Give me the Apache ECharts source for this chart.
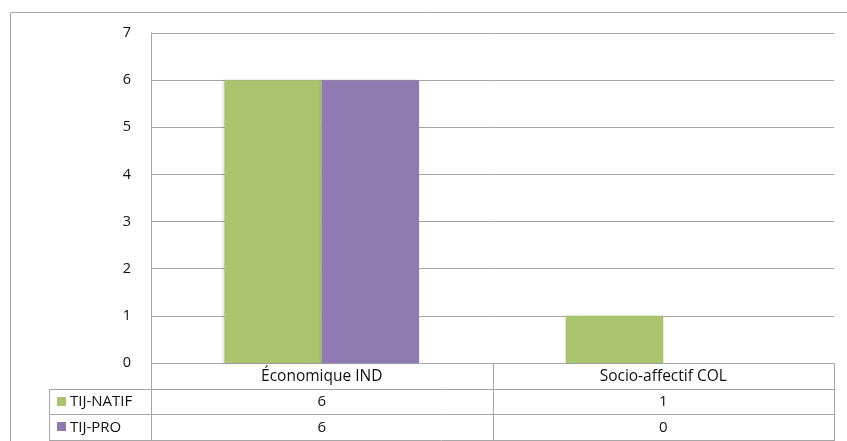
<!DOCTYPE html>
<html>
<head>
<meta charset="utf-8">
<script src="https://cdn.jsdelivr.net/npm/echarts@6/dist/echarts.min.js"></script>
<style>html,body{margin:0;padding:0;background:#fff}#c{width:847px;height:441px}</style>
</head>
<body>
<div id="c"></div>
<script>
const categories = ["Économique IND", "Socio-affectif COL"];
const seriesNames = ["TIJ-NATIF", "TIJ-PRO"];
const natifValues = [6, 1];
const proValues = [6, 0];
const yTicks = [0, 1, 2, 3, 4, 5, 6, 7];

const colors = ["#A9C46C", "#8F7AB1"];
const W = 847, H = 441;
const gLeft = 151, gRight = 834, gTop = 33, gBottom = 363;
const tableLeft = 49;
const rowH = 25.5;
const font = "'Open Sans', sans-serif";
const lineColor = "#A6A6A6";
const textColor = "#111";

const chart = echarts.init(document.getElementById('c'), null, {renderer: 'canvas'});

const allValues = [natifValues, proValues];
const graphics = [];
graphics.push({type: 'rect', shape: {x: 10.5, y: 12.5, width: 900, height: 500}, style: {fill: null, stroke: lineColor, lineWidth: 1}, z: 0});
const catW = (gRight - gLeft) / categories.length;
const rowsY = [gBottom, gBottom + rowH, gBottom + 2 * rowH, gBottom + 3 * rowH];
graphics.push({type: 'line', shape: {x1: gLeft, y1: rowsY[0] + 0.5, x2: gRight, y2: rowsY[0] + 0.5}, style: {stroke: lineColor, lineWidth: 1}});
for (let r = 1; r < rowsY.length; r++) {
  const y = Math.round(rowsY[r]) + 0.5;
  graphics.push({type: 'line', shape: {x1: tableLeft, y1: y, x2: gRight, y2: y}, style: {stroke: lineColor, lineWidth: 1}});
}
graphics.push({type: 'line', shape: {x1: tableLeft + 0.5, y1: Math.round(rowsY[1]), x2: tableLeft + 0.5, y2: Math.round(rowsY[3]) + 1}, style: {stroke: lineColor, lineWidth: 1}});
for (let c = 0; c <= categories.length; c++) {
  const x = Math.round(gLeft + c * catW) + 0.5;
  graphics.push({type: 'line', shape: {x1: x, y1: rowsY[0], x2: x, y2: Math.round(rowsY[3]) + 1}, style: {stroke: lineColor, lineWidth: 1}});
}
categories.forEach((cat, i) => {
  graphics.push({type: 'text', x: gLeft + (i + 0.5) * catW, y: rowsY[0] + rowH / 2 + 1, style: {text: cat, fill: textColor, font: '15.5px ' + font, textAlign: 'center', textVerticalAlign: 'middle'}});
});
seriesNames.forEach((name, s) => {
  const yMid = rowsY[s + 1] + rowH / 2 + 0.5;
  graphics.push({type: 'rect', shape: {x: 57, y: Math.round(yMid) - 5, width: 9, height: 9}, style: {fill: colors[s]}});
  graphics.push({type: 'text', x: 70, y: yMid, style: {text: name, fill: textColor, font: '15px ' + font, textAlign: 'left', textVerticalAlign: 'middle'}});
  allValues[s].forEach((v, i) => {
    graphics.push({type: 'text', x: gLeft + (i + 0.5) * catW, y: yMid, style: {text: String(v), fill: textColor, font: '15px ' + font, textAlign: 'center', textVerticalAlign: 'middle'}});
  });
});

chart.setOption({
  animation: false,
  backgroundColor: '#fff',
  grid: {left: gLeft, right: W - gRight, top: gTop, bottom: H - gBottom, containLabel: false},
  xAxis: {
    type: 'category', data: categories,
    axisLine: {show: false}, axisTick: {show: false}, axisLabel: {show: false}, splitLine: {show: false}
  },
  yAxis: {
    type: 'value', min: yTicks[0], max: yTicks[yTicks.length - 1], interval: 1,
    axisLine: {show: true, lineStyle: {color: lineColor}},
    axisTick: {show: false},
    axisLabel: {margin: 20, color: textColor, fontSize: 14.5, fontFamily: 'Open Sans'},
    splitLine: {show: true, lineStyle: {color: lineColor, width: 1}}
  },
  series: [
    {name: seriesNames[0], type: 'bar', data: natifValues, barGap: '0%', barCategoryGap: '43%', itemStyle: {color: colors[0], shadowColor: 'rgba(0,0,0,0.15)', shadowBlur: 3, shadowOffsetX: -1}},
    {name: seriesNames[1], type: 'bar', data: proValues, barGap: '0%', barCategoryGap: '43%', itemStyle: {color: colors[1], shadowColor: 'rgba(0,0,0,0.15)', shadowBlur: 3, shadowOffsetX: -1}}
  ],
  graphic: graphics
});
</script>
</body>
</html>
